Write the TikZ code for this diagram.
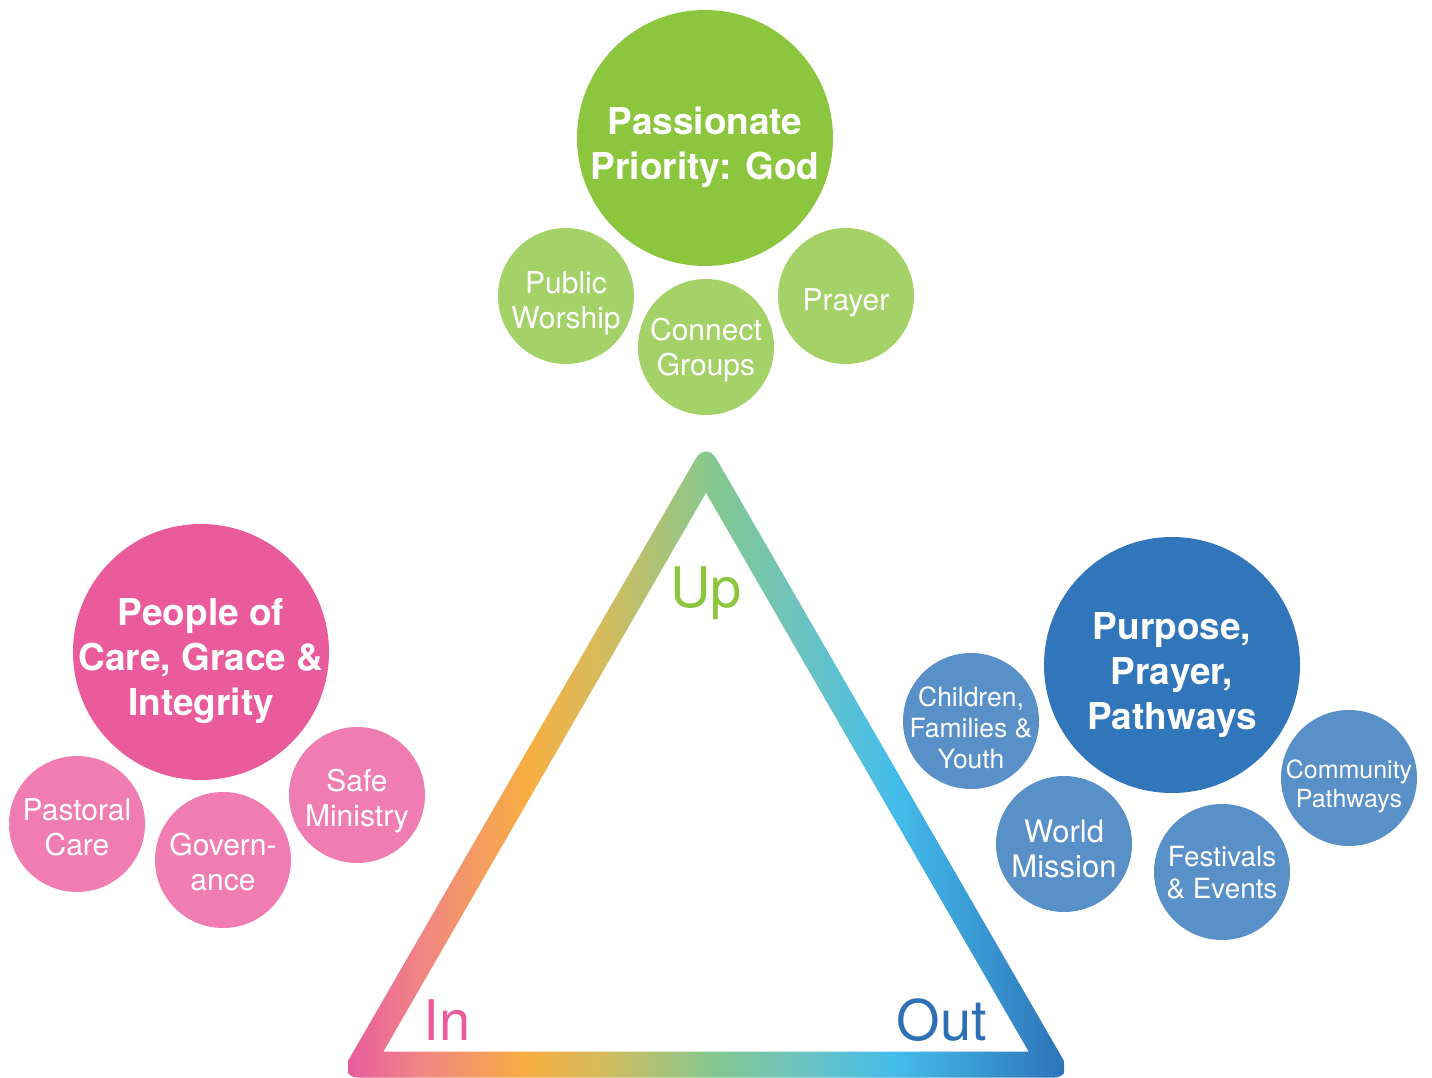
\documentclass[tikz,border=0pt]{standalone}
\usepackage{fontspec}
\setmainfont{TeX Gyre Heros}
\definecolor{gbig}{HTML}{8CC63F}
\definecolor{gsm}{HTML}{A5D169}
\definecolor{pbig}{HTML}{EA5B9C}
\definecolor{psm}{HTML}{EF7DB2}
\definecolor{bbig}{HTML}{3176BA}
\definecolor{bsm}{HTML}{5A90C8}
\definecolor{outc}{HTML}{2F6FB4}
\definecolor{s0}{HTML}{E85C9E}
\definecolor{s1}{HTML}{F08585}
\definecolor{s2}{HTML}{F7AE42}
\definecolor{s3}{HTML}{D6BB5C}
\definecolor{s4}{HTML}{85C88F}
\definecolor{s5}{HTML}{6CC3C0}
\definecolor{s6}{HTML}{44BDEA}
\definecolor{s7}{HTML}{2E73B8}
\pgfdeclarehorizontalshading{tri}{100bp}{color(0bp)=(s0); color(25bp)=(s0); color(30.03bp)=(s1); color(37.43bp)=(s2); color(42.6bp)=(s3); color(50.42bp)=(s4); color(56.56bp)=(s5); color(63.13bp)=(s6); color(75bp)=(s7); color(100bp)=(s7)}
\tikzset{
  bigc/.style={circle, inner sep=0pt, minimum size=256pt},
  smc/.style={circle, inner sep=0pt, minimum size=136pt},
  bigt/.style={inner sep=0pt, text=white, align=center, font=\fontsize{37}{45}\selectfont\bfseries},
  smt/.style={inner sep=0pt, text=white, align=center, font=\fontsize{30}{35}\selectfont},
  corner/.style={inner sep=0pt, font=\fontsize{56}{56}\selectfont}
}
\begin{document}
\begin{tikzpicture}[x=1pt,y=-1pt]
\useasboundingbox (0,0) rectangle (1432,1078);
% triangle with horizontal colour gradient: rounded outer edge, sharp inner edge
\begin{pgfscope}
\pgfsetcornersarced{\pgfpoint{21pt}{21pt}}
\pgfpathmoveto{\pgfpointxy{706}{1077.7}}
\pgfpathlineto{\pgfpointxy{1073.7}{1077.7}}
\pgfpathlineto{\pgfpointxy{706}{440.8}}
\pgfpathlineto{\pgfpointxy{338.3}{1077.7}}
\pgfpathclose
\pgfsetcornersarced{\pgfpointorigin}
\pgfpathmoveto{\pgfpointxy{706}{492.8}}
\pgfpathlineto{\pgfpointxy{383.3}{1051.7}}
\pgfpathlineto{\pgfpointxy{1028.7}{1051.7}}
\pgfpathclose
\pgfseteorule
\pgfusepath{clip}
\shade[shading=tri] (348,440) rectangle (1064,1078);
\end{pgfscope}
% green group
\node[bigc, fill=gbig] (g0) at (705,138) {};
\node[smc, fill=gsm] (g1) at (566,296) {};
\node[smc, fill=gsm] (g2) at (706,347) {};
\node[smc, fill=gsm] (g3) at (846,296) {};
\node[bigt] (g0t) at ([yshift=-9pt]g0.center) {Passionate\\Priority: God};
\node[smt] (g1t) at ([yshift=-7pt]g1.center) {Public\\Worship};
\node[smt] (g2t) at ([yshift=-3pt]g2.center) {Connect\\Groups};
\node[smt] (g3t) at ([yshift=-7pt]g3.center) {Prayer};
% pink group
\node[bigc, fill=pbig] (p0) at (201,652) {};
\node[smc, fill=psm] (p1) at (77,824) {};
\node[smc, fill=psm] (p2) at (223,860) {};
\node[smc, fill=psm] (p3) at (357,795) {};
\node[bigt] (p0t) at ([yshift=-9pt]p0.center) {People of\\Care, Grace \&\\Integrity};
\node[smt] (p1t) at ([yshift=-3pt]p1.center) {Pastoral\\Care};
\node[smt] (p2t) at ([yshift=-2pt]p2.center) {Govern-\\ance};
\node[smt] (p3t) at ([yshift=-6pt]p3.center) {Safe\\Ministry};
% blue group
\node[bigc, fill=bbig] (b0) at (1172,665) {};
\node[smc, fill=bsm] (b1) at (971,721) {};
\node[smc, fill=bsm] (b2) at (1064,844) {};
\node[smc, fill=bsm] (b3) at (1222,872) {};
\node[smc, fill=bsm] (b4) at (1349,778) {};
\node[bigt] (b0t) at ([yshift=-10pt]b0.center) {Purpose,\\Prayer,\\Pathways};
\node[smt, font=\fontsize{26.5}{31}\selectfont] (b1t) at ([yshift=-7pt]b1.center) {Children,\\Families \&\\Youth};
\node[smt, font=\fontsize{31}{35}\selectfont] (b2t) at ([yshift=-5pt]b2.center) {World\\Mission};
\node[smt, font=\fontsize{27.8}{32}\selectfont] (b3t) at ([yshift=-1pt]b3.center) {Festivals\\\& Events};
\node[smt, font=\fontsize{25}{29}\selectfont] (b4t) at ([yshift=-8pt]b4.center) {Community\\Pathways};
% corner labels
\node[corner, text=gbig] (up) at (706,593) {Up};
\node[corner, text=pbig] (in) at (447,1020) {In};
\node[corner, text=outc] (out) at (942,1020) {Out};
\end{tikzpicture}
\end{document}
